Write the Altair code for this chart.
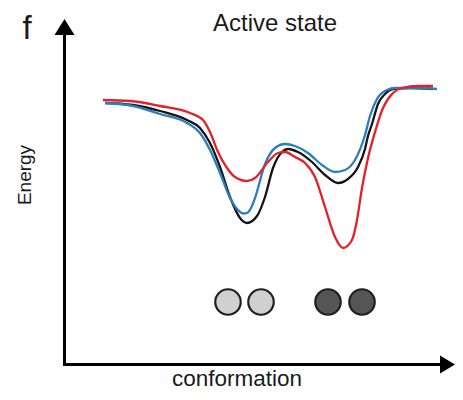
import altair as alt
import pandas as pd

# Curve readings: conformation (px right of the energy axis), energy (px above the conformation axis)
black_conf = [40, 68, 95, 122, 135, 145, 155, 165, 175, 182, 192, 200, 208, 217, 223, 233, 247, 260, 273, 283, 293, 300, 303, 307, 313, 320, 328, 345, 368]
black_energy = [261, 259, 253, 244, 236, 221, 197, 167, 146, 141, 148, 167, 196, 212, 215, 212, 202, 189, 181, 185, 197, 215, 228, 240, 260, 270, 275, 276, 275]

blue_conf = [40, 68, 95, 122, 135, 145, 155, 165, 173, 178, 182, 186, 190, 200, 210, 220, 230, 243, 257, 270, 280, 290, 300, 305, 312, 322, 330, 350, 372]
blue_energy = [261, 258, 250, 241, 231, 214, 191, 166, 154, 150.5, 151, 156, 166, 200, 216, 220, 218, 211, 199, 192, 194, 204, 229, 248, 265, 274, 276, 276, 275]

red_conf = [38, 65, 95, 125, 138, 145, 153, 162, 170, 182, 190, 203, 213, 220, 230, 240, 250, 260, 270, 278, 287, 292, 297, 303, 310, 318, 328, 337, 353, 368]
red_energy = [264, 263, 258, 251, 244, 232, 212, 196, 187, 183, 186, 202, 211, 212, 207, 201, 187, 157, 127, 116, 124, 144, 176, 206, 232, 256, 271, 276, 278, 278]

circle_conf = [163, 196, 263, 297]
circle_energy = [62, 62, 62, 62]
circle_state = ["inactive", "inactive", "active", "active"]

panel_label = "f"
title_text = "Active state"
x_title = "conformation"
y_title = "Energy"

series = {"black": (black_conf, black_energy),
          "blue": (blue_conf, blue_energy),
          "red": (red_conf, red_energy)}
rows = []
for name, (xs, es) in series.items():
    for i, (x, e) in enumerate(zip(xs, es)):
        rows.append({"series": name, "order": i, "conformation": x, "energy": e})
curves = pd.DataFrame(rows)
circles = pd.DataFrame({"conformation": circle_conf, "energy": circle_energy, "state": circle_state})

xscale = alt.Scale(domain=[0, 381], nice=False, zero=False)
yscale = alt.Scale(domain=[0, 329], nice=False, zero=False)

colors = {"black": "#151515", "blue": "#2b7dbc", "red": "#e1222b"}
line_layers = []
for name in ["black", "blue", "red"]:
    line_layers.append(
        alt.Chart(curves).transform_filter(alt.datum.series == name)
        .mark_line(interpolate="monotone", strokeWidth=2.3, color=colors[name])
        .encode(
            x=alt.X("conformation:Q", scale=xscale, axis=None),
            y=alt.Y("energy:Q", scale=yscale, axis=None),
            order="order:Q",
        )
    )

dots = alt.Chart(circles).mark_circle(size=650, opacity=1, stroke="#202020", strokeWidth=2.2).encode(
    x=alt.X("conformation:Q", scale=xscale, axis=None),
    y=alt.Y("energy:Q", scale=yscale, axis=None),
    fill=alt.Fill("state:N", scale=alt.Scale(domain=["inactive", "active"], range=["#d0d0d0", "#555555"]), legend=None),
)

def one(name):
    return pd.DataFrame({"item": [name]})

def label(text, x, y, size, angle=0, align="center"):
    return alt.Chart(pd.DataFrame({"t": [text]})).mark_text(
        font="Liberation Sans", fontSize=size, color="#1a1a1a", angle=angle,
        align=align, baseline="alphabetic"
    ).encode(text="t:N", x=alt.value(x), y=alt.value(y))

def arrow(name, path, x, y):
    return alt.Chart(one(name)).mark_point(
        shape=path, size=400, filled=True, color="black", opacity=1, strokeWidth=0
    ).encode(x=alt.value(x), y=alt.value(y))

y_axis_line = alt.Chart(one("energy axis")).mark_rule(color="black", strokeWidth=3).encode(
    x=alt.value(-0.5), y=alt.value(0), y2=alt.value(331))
x_axis_line = alt.Chart(one("conformation axis")).mark_rule(color="black", strokeWidth=3).encode(
    x=alt.value(-2), x2=alt.value(376), y=alt.value(329.5))

layers = line_layers + [
    dots,
    y_axis_line,
    x_axis_line,
    arrow("energy", "M-1,0.8L0,-0.8L1,0.8Z", -0.5, -8),
    arrow("conformation", "M-0.75,-0.9L0.75,0L-0.75,0.9Z", 382.5, 329.5),
    label(panel_label, -38, 4, 33),
    label(title_text, 210, -4, 24),
    label(x_title, 172, 351, 22.5),
    label(y_title, -34, 140, 19, angle=270),
]

chart = alt.layer(*layers).properties(
    width=381, height=329,
    padding={"left": 57, "top": 27, "right": 9, "bottom": 28},
    autosize=alt.AutoSizeParams(type="none"),
).configure_view(stroke=None)

chart.save("out.html", embed_options={"renderer": "svg", "actions": False})
